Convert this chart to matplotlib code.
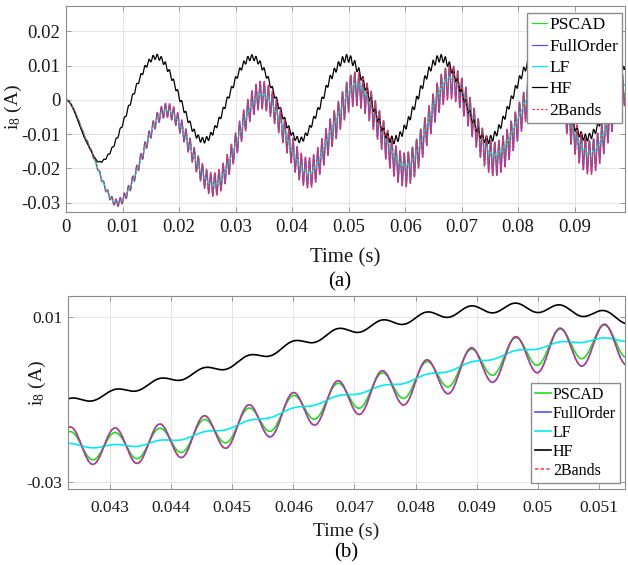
import numpy as np
import matplotlib
matplotlib.use("Agg")
import matplotlib.pyplot as plt

# ---- values ----
# slow part of the LF current (extrema and a few in-between points)
lf_t = [0, 0.0037, 0.0090, 0.0178, 0.0261, 0.0346, 0.0429, 0.0473, 0.0512,
        0.0600, 0.0680, 0.0758, 0.0847, 0.0927, 0.0989, 0.1012]
lf_v = [0, -0.0120, -0.0300, -0.0030, -0.0247, 0.0015, -0.0213, -0.0075, 0.0045,
        -0.0192, 0.0065, -0.0160, 0.0075, -0.0155, 0.0048, 0.0075]

# slow part of the HF current
hf_t = [0, 0.0037, 0.0059, 0.0160, 0.0243, 0.0329, 0.0414, 0.0445, 0.0470,
        0.0497, 0.0579, 0.0663, 0.0746, 0.0830, 0.0921, 0.1004]
hf_v = [0, -0.0125, -0.0181, 0.0126, -0.0118, 0.0124, -0.0117, -0.0033, 0.0070,
        0.0122, -0.0117, 0.0122, -0.0117, 0.0120, -0.0110, 0.0122]

# switching ripple: frequency, a peak time, and amplitude / offset envelopes
rip_freq = 1373.0
rip_peak = 0.04308
rip_t = [0, 0.004, 0.009, 0.018, 0.026, 0.035, 0.043, 0.050, 0.1]
amp_pscad = [0, 0.0002, 0.0008, 0.0016, 0.0026, 0.0031, 0.0033, 0.0039, 0.0040]
amp_full = [0, 0.0003, 0.0011, 0.0021, 0.0034, 0.0041, 0.0044, 0.0049, 0.0050]
amp_lf = [0, 0, 0.0001, 0.0002, 0.0003, 0.0004, 0.0004, 0.0004, 0.0004]
amp_hf = [0, 0, 0.0005, 0.0008, 0.0008, 0.0008, 0.0008, 0.0011, 0.0010]
off_pscad = [0, 0, 0, 0, 0, 0, 0, -0.0004, -0.0005]
off_full = [0, 0, 0, 0, 0, 0, 0, -0.0012, -0.0013]

names = ["PSCAD", "FullOrder", "LF", "HF", "2Bands"]
colors = ["#22dd22", "#5050ff", "#00eeee", "#000000", "#ff3030"]

top_xticks = [0, 0.01, 0.02, 0.03, 0.04, 0.05, 0.06, 0.07, 0.08, 0.09]
top_xlabels = ["0", "0.01", "0.02", "0.03", "0.04", "0.05", "0.06", "0.07", "0.08", "0.09"]
top_yticks = [-0.03, -0.02, -0.01, 0, 0.01, 0.02]
top_ylabels = ["-0.03", "-0.02", "-0.01", "0", "0.01", "0.02"]
bot_xticks = [0.043, 0.044, 0.045, 0.046, 0.047, 0.048, 0.049, 0.05, 0.051]
bot_xlabels = ["0.043", "0.044", "0.045", "0.046", "0.047", "0.048", "0.049", "0.05", "0.051"]
bot_yticks = [-0.03, 0.01]
bot_ylabels = ["-0.03", "0.01"]


def pchip(x, y, xq):
    x = np.asarray(x, float)
    y = np.asarray(y, float)
    h = np.diff(x)
    d = np.diff(y) / h
    m = np.zeros_like(y)
    for k in range(1, len(x) - 1):
        if d[k - 1] * d[k] > 0:
            w1 = 2 * h[k] + h[k - 1]
            w2 = h[k] + 2 * h[k - 1]
            m[k] = (w1 + w2) / (w1 / d[k - 1] + w2 / d[k])
    i = np.clip(np.searchsorted(x, xq) - 1, 0, len(h) - 1)
    s = (xq - x[i]) / h[i]
    return ((2 * s**3 - 3 * s**2 + 1) * y[i] + (s**3 - 2 * s**2 + s) * h[i] * m[i]
            + (-2 * s**3 + 3 * s**2) * y[i + 1] + (s**3 - s**2) * h[i] * m[i + 1])


t = np.linspace(0, 0.1, 40001)
lf_slow = pchip(lf_t, lf_v, t)
hf_slow = pchip(hf_t, hf_v, t)
rip = np.cos(2 * np.pi * rip_freq * (t - rip_peak))

env = lambda a: np.interp(t, rip_t, a)
series = {
    "PSCAD": lf_slow + env(off_pscad) + env(amp_pscad) * rip,
    "FullOrder": lf_slow + env(off_full) + env(amp_full) * rip,
    "LF": lf_slow + env(amp_lf) * rip,
    "HF": hf_slow + env(amp_hf) * rip,
    "2Bands": lf_slow + env(off_full) + env(amp_full) * rip,
}

plt.rcParams["font.family"] = ["Liberation Serif", "DejaVu Serif"]
plt.rcParams["mathtext.fontset"] = "custom"
plt.rcParams["mathtext.rm"] = "Liberation Serif"
plt.rcParams["axes.unicode_minus"] = False

fig = plt.figure(figsize=(6.28, 5.65), dpi=100)
ax1 = fig.add_axes([66 / 628, 1 - 212 / 565, 559 / 628, 206.3 / 565])
ax2 = fig.add_axes([68 / 628, 1 - 489 / 565, 557 / 628, 193 / 565])

# axes, line width, tick size, label size, tick pad, xlabel pad
setups = [(ax1, 0.9, 13.5, 15, 5, 9), (ax2, 1.2, 12.5, 14, 8, 5)]
for ax, lw, tfs, lfs, tpad, xpad in setups:
    for name, c in zip(names, colors):
        if name == "2Bands":
            ax.plot(t, series[name], color=c, lw=lw * 0.9, ls=(0, (2.2, 1.6)), label=name)
        else:
            ax.plot(t, series[name], color=c, lw=lw, label=name)
    ax.grid(True, color="#e4e4e4", lw=0.7)
    ax.set_axisbelow(True)
    for sp in ax.spines.values():
        sp.set_color("#8c8c8c")
        sp.set_linewidth(0.8)
    ax.tick_params(direction="in", top=True, right=True, length=3.5, width=0.6,
                   color="#8c8c8c", labelsize=tfs, labelcolor="#1a1a1a")
    ax.tick_params(axis="x", pad=tpad)
    ax.tick_params(axis="y", pad=4)
    ax.set_xlabel("Time (s)", fontsize=lfs, color="#1a1a1a", labelpad=xpad)
    ax.set_ylabel(r"$\mathrm{i_8}$ (A)", fontsize=14, color="#1a1a1a")

ax1.set_xlim(0, 0.0989)
ax1.set_ylim(-0.0327, 0.0275)
ax1.set_xticks(top_xticks, top_xlabels)
ax1.set_yticks(top_yticks, top_ylabels)
ax1.yaxis.set_label_coords(-0.075, 0.51)
ax1.legend(loc="upper right", bbox_to_anchor=(0.995, 0.965), fontsize=12.5,
           fancybox=False, framealpha=1, edgecolor="#8c8c8c", borderaxespad=0,
           borderpad=0.25, labelspacing=0.3, handlelength=0.9, handletextpad=0.1)

ax2.set_xlim(0.04231, 0.05143)
ax2.set_ylim(-0.0316, 0.015)
ax2.set_xticks(bot_xticks, bot_xlabels)
ax2.set_yticks(bot_yticks, bot_ylabels)
ax2.yaxis.set_label_coords(-0.036, 0.55)
ax2.legend(loc="upper right", bbox_to_anchor=(0.991, 0.549), fontsize=11.5,
           fancybox=False, framealpha=1, edgecolor="#8c8c8c", borderaxespad=0,
           borderpad=0.25, labelspacing=0.18, handlelength=1.0, handletextpad=0.1)

fig.text(340 / 628, 1 - 282 / 565, "(a)", ha="center", va="center", fontsize=15)
fig.text(346 / 628, 1 - 553 / 565, "(b)", ha="center", va="center", fontsize=15)

fig.savefig("out.png", dpi=100)
